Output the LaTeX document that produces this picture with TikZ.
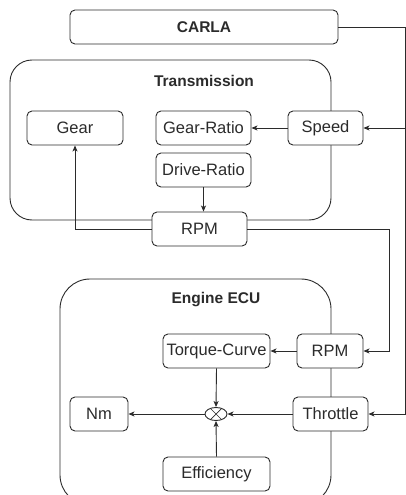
\documentclass[tikz,border=0pt]{standalone}
\usepackage{fontspec}
\setmainfont{Liberation Sans}
\usetikzlibrary{arrows.meta,shapes.geometric}
\definecolor{ink}{HTML}{2B2B2B}
\newcommand{\blk}[5]{%
  \node[blk,minimum width=#4] (#1) at (#2,#3) {#5};
}

\begin{document}
\begin{tikzpicture}[x=1pt,y=-1pt,line width=0.9pt,draw=ink,
  every node/.style={font=\fontsize{16.5}{19}\selectfont,text=ink},
  blk/.style={draw=ink,fill=white,rounded corners=5pt,minimum height=34pt,inner sep=2pt},
  grp/.style={draw=ink,fill=white},
  ttl/.style={font=\fontsize{15.5}{18}\selectfont\bfseries},
  flow/.style={draw=ink,-{Stealth[length=6pt,width=5pt,inset=1.5pt]}}]
  \useasboundingbox (0,0) rectangle (406,495);
  \draw[grp,rounded corners=22pt] (10,60) rectangle (331,220);
  \draw[grp,rounded corners=30pt] (60,279) rectangle (331,505);
  \node[blk,ttl,minimum width=268pt] (carla) at (204,27) {CARLA};
  \node[ttl] (transT) at (204,81) {Transmission};
  \node[ttl] (ecuT) at (216,300) {Engine ECU};
  \foreach \n/\x/\y/\w/\t in {gear/75/128/96pt/Gear,gratio/203.5/128/95pt/Gear-Ratio,
      speed/325.5/128/75pt/Speed,dratio/203.5/170/95pt/Drive-Ratio,trpm/199.5/229/95pt/RPM,
      erpm/330/351/66pt/RPM,tcurve/216.5/351/107pt/Torque-Curve,throttle/330.5/414/75pt/Throttle,
      nm/99/414/58pt/Nm,eff/216.5/474/107pt/Efficiency} {
    \blk{\n}{\x}{\y}{\w}{\t}
  }
  \node[ellipse,draw=ink,fill=white,minimum width=22pt,minimum height=13pt,inner sep=0pt] (mult) at (216,414) {};
  \draw[line width=0.7pt] (mult.45) -- (mult.225) (mult.135) -- (mult.-45);
  \coordinate (busR) at (405,27);
  \coordinate (busM) at (389,229);
  \draw[flow] (carla.east) -| (busR) |- (speed.east);
  \draw[flow] (carla.east) -| (busR) |- (throttle.east);
  \draw[flow] (trpm.east) -| (busM) |- (erpm.east);
  \draw[flow] (trpm.west) -| (gear.south);
  \draw[flow] (speed.west) -- (gratio.east);
  \draw[flow] (dratio.south) -- (dratio.south |- trpm.north);
  \draw[flow] (erpm.west) -- (tcurve.east);
  \draw[flow] (tcurve.south) -- (mult.north);
  \draw[flow] (eff.north) -- (mult.south);
  \draw[flow] (throttle.west) -- (mult.east);
  \draw[flow] (mult.west) -- (nm.east);
\end{tikzpicture}
\end{document}
